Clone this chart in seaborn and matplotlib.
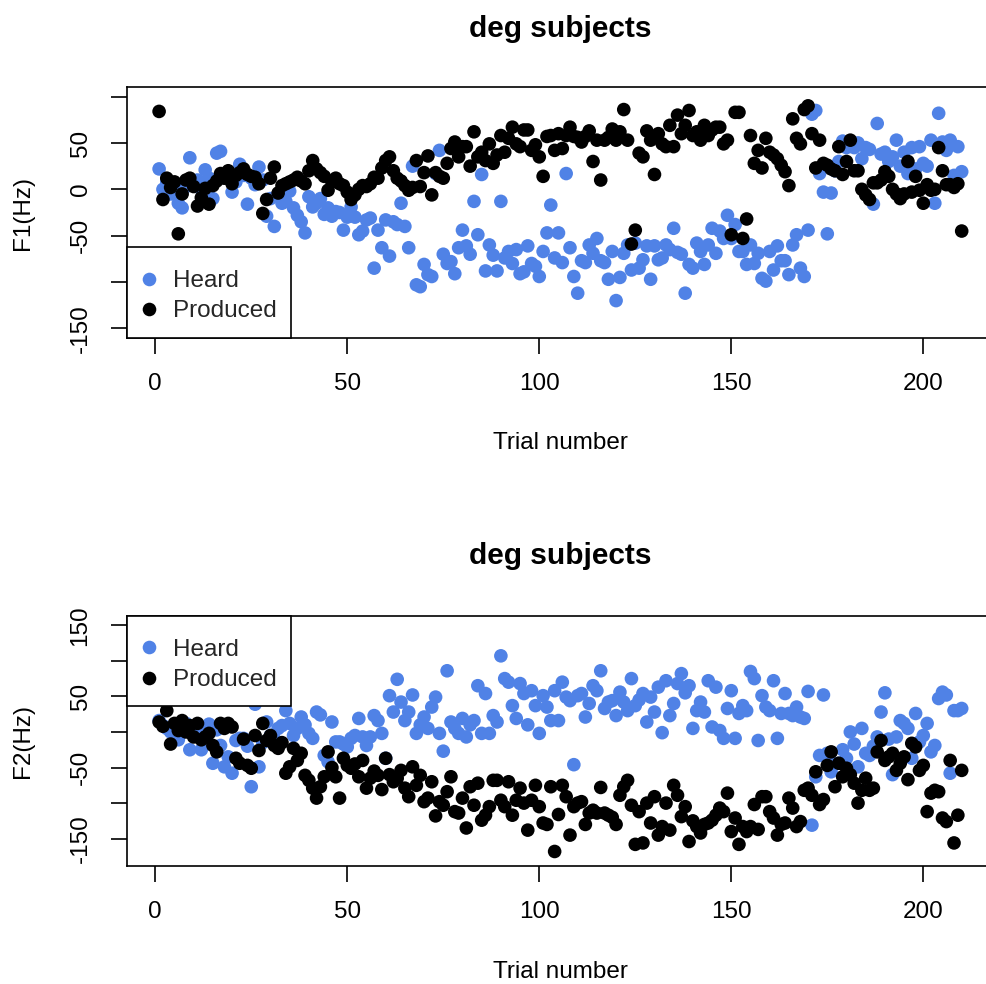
import numpy as np
import pandas as pd
import matplotlib
matplotlib.use("Agg")
import matplotlib.pyplot as plt
from matplotlib.lines import Line2D
from matplotlib.patches import Rectangle
import seaborn as sns

# ---------------- data ----------------
trials = list(range(1, 211))

f1_heard = [
    22, 0, 8, -5, 5, -15, -20, 3, 34, 5,
    10, 0, 21, 12, -10, 39, 41, 15, 12, -3,
    8, 27, 15, -16, 12, 5, 24, 10, -29, -10,
    -40, -5, -15, -13, -2, -20, -28, -35, -47, -8,
    -19, -15, -10, -27, -20, -29, -24, -25, -44, -30,
    -19, -30, -49, -45, -33, -31, -85, -44, -63, -33,
    -72, -35, -38, -15, -40, -63, 25, -103, -105, -81,
    -92, -94, 17, 42, -70, -80, -78, -91, -63, -44,
    -61, -70, -13, -49, 16, -88, -60, -71, -88, -13,
    -74, -67, -80, -65, -91, -89, -61, -80, -83, -94,
    -67, -47, -17, -74, -47, -79, 17, -63, -94, -112,
    -77, -79, -60, -69, -53, -77, -79, -97, -67, -120,
    -95, -69, -60, -87, -58, -85, -76, -61, -97, -61,
    -76, -74, -60, -65, -42, -68, -70, -112, -81, -85,
    -58, -67, -81, -60, -42, -69, -45, -53, -28, -53,
    -38, -67, -67, -81, -60, -80, -69, -96, -99, -67,
    -87, -61, -77, -77, -92, -60, -49, -85, -94, -44,
    81, 85, 17, -3, -48, -4, 20, 30, 52, 45,
    50, 45, 50, 33, 45, 43, -16, 71, 38, 40,
    30, 35, 53, 25, 40, 17, 45, 22, 46, 28,
    25, 53, -15, 82, 51, 42, 53, 15, 46, 19,
]

f1_produced = [
    84, -11, 12, 2, 8, -48, -5, 10, 12, 3,
    -18, -9, 1, -16, 4, 9, 17, 12, 20, 6,
    15, 18, 22, 16, 14, 13, 6, -26, -11, 12,
    24, -4, 4, 6, 8, 10, 13, 9, 6, 20,
    31, 22, 18, 14, -1, 8, 12, 6, 4, -3,
    -11, -6, 0, 4, 3, 6, 13, 12, 23, 31,
    35, 20, 12, 9, 4, -1, 2, 31, 3, 18,
    36, -6, 18, 14, 12, 28, 44, 51, 35, 46,
    46, 25, 62, 35, 40, 31, 49, 28, 37, 58,
    40, 55, 67, 49, 46, 64, 64, 42, 48, 35,
    14, 57, 58, 42, 60, 44, 58, 67, 57, 56,
    51, 57, 63, 30, 53, 10, 53, 56, 65, 53,
    62, 86, 53, -59, -44, 39, 35, 63, 53, 16,
    60, 49, 46, 69, 46, 80, 60, 69, 85, 58,
    62, 53, 69, 58, 64, 67, 67, 49, 53, -49,
    83, 83, -53, -32, 58, 28, 42, 23, 55, 40,
    37, 33, 26, 19, 4, 76, 55, 49, 86, 90,
    60, 23, 53, 28, 26, 22, 20, 46, 16, 30,
    53, 20, 20, 0, -6, -11, 7, 7, 10, 19,
    14, 0, -5, -10, -5, 30, -3, 14, -1, -15,
    5, -1, 0, 45, 20, 5, 5, 2, 6, -45,
]

f2_heard = [
    16, 9, 5, 0, 8, -11, 2, 12, -25, -3,
    6, -25, -8, 11, -44, 3, -19, -49, -35, -58,
    -12, -9, -9, -20, -77, 39, -49, -15, 14, -5,
    -10, 5, 9, 30, 12, -5, 5, 21, 10, -2,
    -9, 28, 24, -33, -42, 14, -14, -14, -17, -21,
    -9, -5, 19, -7, -19, -7, 23, 16, -2, -37,
    51, 28, 74, 42, 16, 28, 52, -2, 10, 21,
    5, 35, 49, -2, -27, 86, 14, 5, -2, 19,
    -7, 10, 16, 65, -2, 54, -2, 23, 14, 107,
    75, 70, 37, 19, 68, 54, 10, 58, 37, -2,
    51, 35, 16, 58, 16, 70, 49, 44, -46, 51,
    54, 21, 40, 65, 58, 86, 33, 42, 44, 23,
    56, 42, 30, 75, 37, 45, 54, 14, 49, 28,
    63, -1, 72, 23, 40, 68, 82, 55, 65, 5,
    30, 42, 28, 72, 7, 63, 2, -9, 33, 58,
    -9, 26, 37, 30, 85, 75, -12, 51, 35, 30,
    72, -9, 26, 54, 26, 23, 35, 21, 19, 57,
    -131, -63, -33, 52, -30, -56, -45, -44, -25, -37,
    0, -17, -49, 5, -30, -33, -20, -7, 28, 55,
    -10, -60, -7, 16, 12, 5, -37, 26, -14, -5,
    12, -28, -19, 47, 56, 52, -58, 30, 30, 33,
]

f2_produced = [
    14, 8, 30, -17, 12, 2, 16, 0, 9, -7,
    12, -11, -7, -2, -19, -28, 12, 5, 12, 7,
    -37, -44, -10, -47, -51, -5, -26, 12, -12, -5,
    -19, -23, -15, -58, -49, -23, -40, -30, -61, -68,
    -79, -93, -77, -63, -28, -50, -63, -93, -37, -47,
    -51, -45, -63, -40, -79, -65, -55, -61, -81, -37,
    -60, -70, -65, -54, -79, -91, -49, -75, -61, -98,
    -93, -70, -118, -98, -103, -84, -63, -112, -114, -93,
    -135, -77, -103, -72, -124, -117, -105, -68, -68, -96,
    -105, -70, -117, -96, -79, -100, -138, -96, -75, -105,
    -128, -130, -77, -168, -116, -75, -91, -145, -105, -100,
    -98, -130, -114, -110, -114, -78, -114, -117, -120, -130,
    -89, -77, -68, -103, -158, -112, -156, -100, -128, -91,
    -145, -133, -100, -138, -75, -89, -119, -105, -154, -125,
    -133, -142, -130, -128, -124, -117, -107, -112, -86, -140,
    -121, -158, -133, -140, -133, -102, -137, -91, -91, -112,
    -121, -145, -130, -128, -93, -107, -133, -126, -82, -79,
    -89, -56, -102, -95, -47, -28, -77, -44, -63, -51,
    -60, -72, -100, -82, -65, -82, -79, -28, -12, -40,
    -35, -30, -54, -44, -35, -67, -16, -21, -54, -47,
    -112, -86, -82, -84, -121, -126, -40, -156, -117, -54,
]

series_names = ["Heard", "Produced"]
title_text = "deg subjects"
x_label = "Trial number"
y_labels = ["F1(Hz)", "F2(Hz)"]
x_ticks = [0, 50, 100, 150, 200]
y_ticks_top = [-150, -100, -50, 0, 50, 100]
y_ticklabels_top = ["-150", "", "-50", "0", "50", ""]
y_ticks_bot = [-150, -100, -50, 0, 50, 100, 150]
y_ticklabels_bot = ["-150", "", "-50", "", "50", "", "150"]

# ---------------- style ----------------
sns.set_theme(style="white")
plt.rcParams["font.family"] = ["Liberation Sans", "DejaVu Sans"]
plt.rcParams["axes.edgecolor"] = "black"
plt.rcParams["axes.linewidth"] = 1.2

BLUE = "#5082E6"
palette = {"Heard": BLUE, "Produced": "black"}
FS = 17.5
MS = 96  # marker area (pt^2)


def make_df(heard, produced):
    return pd.concat([
        pd.DataFrame({"trial": trials, "value": heard, "series": "Heard"}),
        pd.DataFrame({"trial": trials, "value": produced, "series": "Produced"}),
    ], ignore_index=True)


fig = plt.figure(figsize=(9.87, 9.84), dpi=100)
W, H = 987.0, 984.0
x_left = 127.0
x_right = 993.8
ax_w_px = x_right - x_left
ax1 = fig.add_axes([x_left / W, 1 - 337.7 / H, ax_w_px / W, 250.4 / H])
ax2 = fig.add_axes([x_left / W, 1 - 865.7 / H, ax_w_px / W, 249.7 / H])

leg_w = (291.0 - 127.0) / ax_w_px
panels = [
    # ax, df, ylim, yticks, yticklabels, ylabel, legend box (y0, h) in axes frac, title pad, xlabel y
    (ax1, make_df(f1_heard, f1_produced), (-160, 110), y_ticks_top, y_ticklabels_top,
     y_labels[0], (0.0, 90.7 / 250.4), 36.4, -0.377),
    (ax2, make_df(f2_heard, f2_produced), (-188, 163), y_ticks_bot, y_ticklabels_bot,
     y_labels[1], (1.0 - 90.0 / 249.7, 90.0 / 249.7), 37.6, -0.382),
]

for ax, df, ylim, yt, ytl, ylab, (lb_y0, lb_h), tpad, xlab_y in panels:
    sns.scatterplot(data=df, x="trial", y="value", hue="series", palette=palette,
                    s=MS, linewidth=0, ax=ax, legend=False, zorder=3)
    ax.set_xlim(-7.36, 218.36)
    ax.set_ylim(*ylim)
    ax.set_xticks(x_ticks)
    ax.set_xticklabels([str(t) for t in x_ticks])
    ax.set_yticks(yt)
    ax.set_yticklabels(ytl)
    ax.tick_params(axis="both", direction="out", length=11.5, width=1.2,
                   pad=14, labelsize=FS, colors="black", bottom=True, left=True)
    for lab in ax.get_yticklabels():
        lab.set_rotation(90)
        lab.set_va("center")
        lab.set_ha("right")
    for sp in ax.spines.values():
        sp.set_visible(True)
        sp.set_color("black")
        sp.set_linewidth(1.2)
    ax.set_xlabel(x_label, fontsize=FS, color="black")
    ax.set_ylabel(ylab, fontsize=FS, color="black")
    ax.xaxis.set_label_coords(0.5, xlab_y)
    ax.yaxis.set_label_coords(-0.1073, 0.5)
    ax.set_title(title_text, fontsize=21.5, fontweight="bold", pad=tpad, color="black")

    # legend box (R style: white box with black border)
    rect = Rectangle((0, lb_y0), leg_w, lb_h, transform=ax.transAxes,
                     facecolor="white", edgecolor="black", linewidth=1.2,
                     zorder=6, clip_on=False)
    ax.add_patch(rect)
    handles = [Line2D([0], [0], marker="o", linestyle="", markersize=np.sqrt(MS),
                      markerfacecolor=palette[n], markeredgewidth=0, color=palette[n])
               for n in series_names]
    anchor_x = (139.3 - x_left) / ax_w_px
    leg = ax.legend(handles, series_names, loc="center left",
                    bbox_to_anchor=(anchor_x, lb_y0 + lb_h / 2 - 0.016), fontsize=FS,
                    frameon=False, borderaxespad=0, borderpad=0,
                    handlelength=0.8, handletextpad=0.59, labelspacing=0.33)
    leg.set_zorder(7)

fig.savefig("out.png", dpi=100, facecolor="white")
